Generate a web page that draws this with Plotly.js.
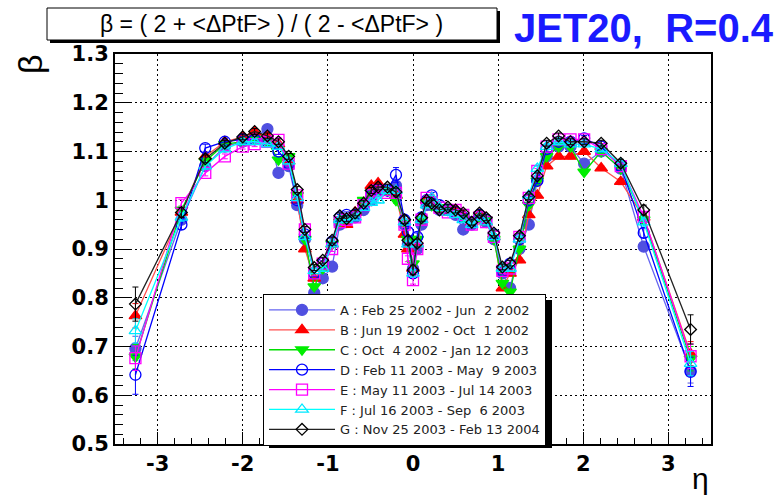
<!DOCTYPE html>
<html><head><meta charset="utf-8">
<script src="https://cdn.plot.ly/plotly-3.0.1.min.js"></script>
<style>html,body{margin:0;padding:0;background:#fff}#chart{width:778px;height:499px}</style>
</head><body><div id="chart"></div>
<script>
const eta = [-3.26,-2.72,-2.44,-2.21,-2.0,-1.86,-1.71,-1.58,-1.46,-1.36,-1.27,-1.16,-1.06,-0.95,-0.86,-0.78,-0.68,-0.58,-0.49,-0.41,-0.3,-0.2,-0.1,-0.06,0.0,0.05,0.1,0.16,0.22,0.31,0.41,0.5,0.59,0.69,0.78,0.86,0.95,1.05,1.14,1.25,1.36,1.46,1.57,1.71,1.85,2.01,2.21,2.44,2.71,3.26];

const betaA = [0.696,0.96,1.07,1.11,1.12,1.13,1.146,1.056,1.07,0.99,0.92,0.81,0.84,0.864,0.95,0.955,0.965,0.98,1.0,1.02,1.02,1.03,0.95,0.91,0.86,0.90,0.95,0.99,0.99,0.98,0.98,0.97,0.94,0.95,0.965,0.955,0.92,0.85,0.82,0.90,0.95,1.04,1.09,1.11,1.11,1.075,1.10,1.065,0.905,0.65];
const betaB = [0.763,0.975,1.09,1.12,1.13,1.14,1.13,1.115,1.08,1.0,0.90,0.84,0.86,0.91,0.96,0.95,0.975,0.995,1.03,1.035,1.02,1.01,0.93,0.90,0.86,0.91,0.96,1.0,1.005,0.985,0.975,0.98,0.97,0.955,0.97,0.955,0.925,0.82,0.85,0.877,0.97,1.01,1.07,1.09,1.09,1.10,1.066,1.038,0.965,0.685];
const betaC = [0.679,0.98,1.08,1.115,1.12,1.125,1.12,1.083,1.09,1.01,0.92,0.823,0.86,0.91,0.955,0.965,0.97,1.0,1.015,1.02,1.02,1.0,0.955,0.92,0.87,0.92,0.96,0.995,0.99,0.985,0.985,0.975,0.965,0.955,0.965,0.96,0.92,0.83,0.812,0.90,0.99,1.04,1.09,1.11,1.11,1.058,1.10,1.065,0.96,0.675];
const betaD = [0.642,0.95,1.107,1.12,1.125,1.125,1.12,1.10,1.075,1.0,0.93,0.85,0.87,0.915,0.965,0.97,0.97,0.99,1.01,1.02,1.02,1.052,0.96,0.935,0.85,0.925,0.965,1.0,1.01,0.99,0.98,0.975,0.965,0.955,0.97,0.96,0.93,0.855,0.87,0.92,1.0,1.04,1.105,1.12,1.12,1.127,1.11,1.07,0.933,0.648];
const betaE = [0.676,0.994,1.056,1.09,1.11,1.115,1.12,1.124,1.075,1.01,0.94,0.85,0.87,0.90,0.955,0.96,0.965,0.99,1.01,1.02,1.015,1.015,0.95,0.88,0.836,0.90,0.96,1.005,0.995,0.985,0.975,0.98,0.97,0.95,0.965,0.955,0.925,0.855,0.86,0.925,1.005,1.06,1.11,1.125,1.125,1.125,1.105,1.07,0.966,0.68];
const betaF = [0.732,0.965,1.07,1.105,1.12,1.12,1.115,1.11,1.08,1.005,0.925,0.855,0.86,0.91,0.96,0.96,0.965,0.985,0.995,1.0,1.02,1.02,0.955,0.91,0.85,0.91,0.96,0.99,1.005,0.985,0.975,0.97,0.96,0.95,0.965,0.955,0.925,0.86,0.86,0.92,1.01,1.065,1.11,1.12,1.115,1.115,1.105,1.075,0.955,0.665];
const betaG = [0.787,0.975,1.085,1.117,1.13,1.141,1.132,1.12,1.09,1.022,0.94,0.862,0.877,0.918,0.968,0.962,0.974,0.994,1.02,1.027,1.027,1.017,0.96,0.918,0.857,0.912,0.964,1.0,0.994,0.98,0.986,0.98,0.974,0.955,0.974,0.964,0.933,0.863,0.871,0.927,1.007,1.05,1.117,1.132,1.12,1.12,1.117,1.076,0.98,0.735];

const errCommon = [0.025,0.008,0.006,0.005,0.005,0.005,0.005,0.005,0.005,0.005,0.005,0.005,0.005,0.005,0.005,0.005,0.005,0.005,0.005,0.005,0.005,0.006,0.006,0.006,0.008,0.006,0.006,0.005,0.005,0.005,0.005,0.005,0.005,0.005,0.005,0.005,0.005,0.005,0.005,0.005,0.005,0.005,0.005,0.005,0.005,0.005,0.005,0.006,0.008,0.025];
const errD = [0.04,0.01,0.008,0.006,0.006,0.006,0.006,0.006,0.006,0.006,0.006,0.006,0.006,0.006,0.006,0.006,0.006,0.006,0.006,0.006,0.006,0.015,0.008,0.008,0.01,0.008,0.008,0.006,0.006,0.006,0.006,0.006,0.006,0.006,0.006,0.006,0.006,0.006,0.006,0.006,0.006,0.006,0.006,0.006,0.006,0.006,0.006,0.008,0.01,0.03];
const errG = [0.035,0.01,0.008,0.006,0.006,0.006,0.006,0.006,0.006,0.006,0.006,0.006,0.006,0.006,0.006,0.006,0.006,0.006,0.006,0.006,0.006,0.008,0.008,0.008,0.01,0.008,0.008,0.006,0.006,0.006,0.006,0.006,0.006,0.006,0.006,0.006,0.006,0.006,0.006,0.006,0.006,0.006,0.006,0.006,0.006,0.006,0.006,0.008,0.01,0.03];

const seriesNames = [
  "A : Feb 25 2002 - Jun\u00a0 2 2002",
  "B : Jun 19 2002 - Oct\u00a0 1 2002",
  "C : Oct\u00a0 4 2002 - Jan 12 2003",
  "D : Feb 11 2003 - May\u00a0 9 2003",
  "E : May 11 2003 - Jul 14 2003",
  "F : Jul 16 2003 - Sep\u00a0 6 2003",
  "G : Nov 25 2003 - Feb 13 2004"
];
const yTickVals = [0.5,0.6,0.7,0.8,0.9,1.0,1.1,1.2,1.3];
const xTickVals = [-3,-2,-1,0,1,2,3];
const xTickText = ["-3","-2","-1","0","1","2","3"];

const styles = [
  {y: betaA, e: errCommon, line: '#6464f0', mk: '#5050e0', sym: 'circle', size: 11},
  {y: betaB, e: errCommon, line: '#ff5050', mk: '#ff0000', sym: 'triangle-up', size: 11},
  {y: betaC, e: errCommon, line: '#00dd00', mk: '#00ee00', sym: 'triangle-down', size: 11},
  {y: betaD, e: errD, line: '#0000ff', mk: '#0000ff', sym: 'circle-open', size: 11},
  {y: betaE, e: errCommon, line: '#ff00ff', mk: '#ff00ff', sym: 'square-open', size: 11},
  {y: betaF, e: errCommon, line: '#00ffff', mk: '#00e8ff', sym: 'triangle-up-open', size: 11},
  {y: betaG, e: errG, line: '#222222', mk: '#000000', sym: 'diamond-open', size: 9}
];

const traces = styles.map((s, i) => ({
  type: 'scatter', mode: 'lines+markers', x: eta, y: s.y, name: seriesNames[i],
  line: {color: s.line, width: 1.3},
  marker: {symbol: s.sym, color: s.mk, size: s.size, line: {color: s.mk, width: 1.3}},
  error_y: {type: 'data', array: s.e, visible: true, color: s.mk, thickness: 1, width: 3}
}));

const L = 115, R = 711, T = 54, B = 444;
const px = v => (v - L) / (R - L);
const py = v => (B - v) / (B - T);
const tickFont = {family: 'DejaVu Sans, sans-serif', size: 21, color: '#000', weight: 'bold'};

// legend box placement (pixels) – shadow drawn behind it
const LEG_X0 = 263, LEG_Y0 = 294, LEG_X1 = 547, LEG_Y1 = 444;

const layout = {
  width: 778, height: 499,
  margin: {l: L, r: 778 - R, t: T, b: 499 - B},
  paper_bgcolor: '#fff', plot_bgcolor: '#fff',
  font: {family: 'Liberation Sans, Arial, sans-serif', color: '#000'},
  showlegend: true,
  legend: {
    x: px(LEG_X0), y: py(LEG_Y0), xanchor: 'left', yanchor: 'top',
    bgcolor: '#fff', bordercolor: '#000', borderwidth: 1,
    font: {family: 'DejaVu Sans, sans-serif', size: 13, color: '#222'},
    itemwidth: 66, tracegroupgap: 0
  },
  xaxis: {
    range: [-3.5, 3.5], tickvals: xTickVals, ticktext: xTickText,
    ticks: 'inside', ticklen: 12, tickwidth: 1, tickcolor: '#000',
    minor: {dtick: 0.2, tick0: 0, ticks: 'inside', ticklen: 6, tickcolor: '#000', showgrid: false},
    showline: true, linecolor: '#000', linewidth: 2, mirror: true,
    showgrid: true, gridcolor: '#000', gridwidth: 1, griddash: '2px,3px',
    zeroline: false, tickfont: tickFont
  },
  yaxis: {
    range: [0.5, 1.3], tickvals: yTickVals,
    ticks: 'inside', ticklen: 16, tickwidth: 1, tickcolor: '#000',
    minor: {dtick: 0.02, tick0: 0.5, ticks: 'inside', ticklen: 8, tickcolor: '#000', showgrid: false},
    showline: true, linecolor: '#000', linewidth: 2, mirror: true,
    showgrid: true, gridcolor: '#000', gridwidth: 1, griddash: '2px,3px',
    zeroline: false, tickfont: tickFont
  },
  shapes: [
    {type: 'rect', xref: 'paper', yref: 'paper', x0: px(50), x1: px(500), y0: py(43), y1: py(11), fillcolor: '#000', line: {width: 0}, layer: 'above'},
    {type: 'rect', xref: 'paper', yref: 'paper', x0: px(47), x1: px(497), y0: py(40), y1: py(8), fillcolor: '#fff', line: {color: '#000', width: 1}, layer: 'above'},
    {type: 'rect', xref: 'paper', yref: 'paper', x0: px(LEG_X0 + 6), x1: px(LEG_X1 + 5), y0: py(LEG_Y1 + 4), y1: py(LEG_Y0 + 6), fillcolor: '#000', line: {width: 0}, layer: 'above'}
  ],
  annotations: [
    {xref: 'paper', yref: 'paper', x: px(271), y: py(24), xanchor: 'center', yanchor: 'middle', showarrow: false,
     text: 'β = ( 2 + &lt;ΔPtF&gt; ) / ( 2 - &lt;ΔPtF&gt; )', font: {size: 23, color: '#000'}},
    {xref: 'paper', yref: 'paper', x: px(776), y: py(28), xanchor: 'right', yanchor: 'middle', showarrow: false,
     text: '<b>JET20,\u00a0 R=0.4</b>', font: {size: 40, color: '#1a1aff'}},
    {xref: 'paper', yref: 'paper', x: px(30), y: py(64), xanchor: 'center', yanchor: 'middle', showarrow: false, textangle: -90,
     text: 'β', font: {size: 34, color: '#000'}},
    {xref: 'paper', yref: 'paper', x: px(700), y: py(479), xanchor: 'center', yanchor: 'middle', showarrow: false,
     text: 'η', font: {size: 30, color: '#000'}}
  ]
};

Plotly.newPlot('chart', traces, layout, {staticPlot: true, displayModeBar: false});
</script></body></html>
